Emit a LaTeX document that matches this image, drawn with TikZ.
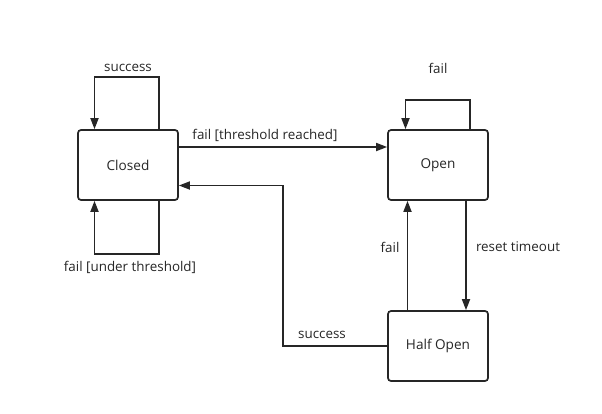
\documentclass[tikz,border=0pt]{standalone}
\usepackage{fontspec}
\setmainfont{Open Sans}
\usetikzlibrary{arrows.meta}
\begin{document}
\begin{tikzpicture}[x=1pt,y=-1pt,
  state/.style={draw=black!85,line width=1.7pt,rounded corners=3pt,minimum width=100pt,minimum height=70pt,inner sep=0pt,font=\fontsize{13.6}{16}\selectfont,text=black!85},
  conn/.style={draw=black!85,line width=1.7pt,-{Triangle[length=11pt,width=8pt]}},
  lbl/.style={font=\fontsize{13.4}{16}\selectfont,text=black!85,inner sep=0pt}]
\useasboundingbox (0,0) rectangle (602,413);
\node[state] (closed) at (128,165) {Closed};
\node[state] (open) at (438,165) {Open};
\node[state] (half) at (438,346) {Half Open};
% Closed success loop
\coordinate (cs1) at (159,77);
\coordinate (cs2) at (94.5,77);
\draw[conn] (closed.north -| cs1) -- (cs1) -- (cs2) -- (closed.north -| cs2);
\node[lbl] (lcs) at (128,68) {success};
% Closed fail under threshold loop
\coordinate (cf1) at (159,254);
\coordinate (cf2) at (94.5,254);
\draw[conn] (closed.south -| cf1) -- (cf1) -- (cf2) -- (closed.south -| cf2);
\node[lbl] (lcf) at (130,267) {fail [under threshold]};
% Open fail loop
\coordinate (of1) at (470,100);
\coordinate (of2) at (405.5,100);
\draw[conn] (open.north -| of1) -- (of1) -- (of2) -- (open.north -| of2);
\node[lbl] (lof) at (438,68) {fail};
% Closed -> Open
\coordinate (co) at (0,147);
\draw[conn] (closed.east |- co) -- (open.west |- co);
\node[lbl] (lco) at (265,135) {fail [threshold reached]};
% Half open -> Closed
\coordinate (hc1) at (283,346);
\coordinate (hc2) at (283,185.5);
\draw[conn] (half.west) -- (hc1) -- (hc2) -- (closed.east |- hc2);
\node[lbl] (lhc) at (322,335) {success};
% Open -> Half Open
\coordinate (oh) at (466,0);
\draw[conn] (open.south -| oh) -- (half.north -| oh);
\node[lbl] (loh) at (518,247) {reset timeout};
% Half Open -> Open
\coordinate (ho) at (407.5,0);
\draw[conn] (half.north -| ho) -- (open.south -| ho);
\node[lbl] (lho) at (390,247) {fail};
\end{tikzpicture}
\end{document}
